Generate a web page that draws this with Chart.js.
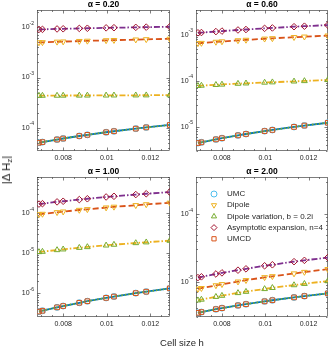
<!DOCTYPE html>
<html>
<head>
<meta charset="utf-8">
<script src="https://cdn.jsdelivr.net/npm/chart.js@4.4.1/dist/chart.umd.min.js"></script>
<style>
  html, body { margin: 0; padding: 0; background: #fff; }
  #fig { position: relative; width: 334px; height: 348px; overflow: hidden; background: #fff;
         font-family: "Liberation Sans", Arial, sans-serif; color: #262626; }
  #fig canvas { position: absolute; }
  #ylab { position: absolute; left: 7px; top: 170px; transform: translate(-50%, -50%) rotate(-90deg);
          font-size: 11.5px; white-space: nowrap; }
  #ylab sub { font-size: 8px; vertical-align: -2px; }
  #xlab { position: absolute; left: 182px; top: 342px; transform: translate(-50%, -50%);
          font-size: 9.5px; white-space: nowrap; }
</style>
</head>
<body>
<div id="fig">
  <canvas id="c0"></canvas>
  <canvas id="c1"></canvas>
  <canvas id="c2"></canvas>
  <canvas id="c3"></canvas>
  <div id="ylab">|&Delta; H<sub>z</sub>|</div>
  <div id="xlab">Cell size h</div>
</div>
<script>
// --- Data ---
const cellSize = [0.00689, 0.00705, 0.00772, 0.0080, 0.00874, 0.00911, 0.00997, 0.01033, 0.01133, 0.01181, 0.01289];
const xTicks = [0.008, 0.01, 0.012];
const titles = ["α = 0.20", "α = 0.60", "α = 1.00", "α = 2.00"];
const seriesNames = ["UMC", "Dipole", "Dipole variation, b = 0.2i", "Asymptotic expansion, n=4", "UMCD"];

// alpha = 0.20
const umcA = [5.0e-5, 5.15e-5, 5.79e-5, 6.07e-5, 6.81e-5, 7.19e-5, 8.09e-5, 8.47e-5, 9.55e-5, 1.01e-4, 1.13e-4];
const dipoleA = [5.0e-3, 5.03e-3, 5.15e-3, 5.2e-3, 5.32e-3, 5.38e-3, 5.5e-3, 5.56e-3, 5.69e-3, 5.77e-3, 5.9e-3];
const dipVarA = [4.35e-4, 4.35e-4, 4.36e-4, 4.37e-4, 4.38e-4, 4.39e-4, 4.4e-4, 4.41e-4, 4.42e-4, 4.43e-4, 4.45e-4];
const asymA = [9.1e-3, 9.12e-3, 9.3e-3, 9.37e-3, 9.53e-3, 9.6e-3, 9.78e-3, 9.84e-3, 1.0e-2, 1.01e-2, 1.03e-2];
const umcdA = [5.0e-5, 5.15e-5, 5.79e-5, 6.07e-5, 6.81e-5, 7.19e-5, 8.09e-5, 8.47e-5, 9.55e-5, 1.01e-4, 1.13e-4];

// alpha = 0.60
const umcB = [4.4e-6, 4.56e-6, 5.28e-6, 5.61e-6, 6.47e-6, 6.93e-6, 8.02e-6, 8.49e-6, 9.89e-6, 1.06e-5, 1.22e-5];
const dipoleB = [6.6e-4, 6.7e-4, 7.08e-4, 7.24e-4, 7.64e-4, 7.83e-4, 8.3e-4, 8.47e-4, 8.97e-4, 9.2e-4, 9.7e-4];
const dipVarB = [7.8e-5, 7.9e-5, 8.2e-5, 8.35e-5, 8.7e-5, 8.85e-5, 9.2e-5, 9.35e-5, 9.75e-5, 9.95e-5, 1.05e-4];
const asymB = [1.12e-3, 1.135e-3, 1.19e-3, 1.22e-3, 1.29e-3, 1.32e-3, 1.4e-3, 1.43e-3, 1.52e-3, 1.56e-3, 1.65e-3];
const umcdB = [4.4e-6, 4.56e-6, 5.28e-6, 5.61e-6, 6.47e-6, 6.93e-6, 8.02e-6, 8.49e-6, 9.89e-6, 1.06e-5, 1.22e-5];

// alpha = 1.00
const umcC = [3.5e-7, 3.67e-7, 4.46e-7, 4.81e-7, 5.81e-7, 6.35e-7, 7.69e-7, 8.3e-7, 1.01e-6, 1.1e-6, 1.33e-6];
const dipoleC = [9.4e-5, 9.64e-5, 1.06e-4, 1.1e-4, 1.21e-4, 1.26e-4, 1.39e-4, 1.45e-4, 1.59e-4, 1.67e-4, 1.83e-4];
const dipVarC = [1.08e-5, 1.1e-5, 1.21e-5, 1.26e-5, 1.38e-5, 1.44e-5, 1.58e-5, 1.65e-5, 1.81e-5, 1.89e-5, 2.07e-5];
const asymC = [1.7e-4, 1.74e-4, 1.93e-4, 2.0e-4, 2.2e-4, 2.31e-4, 2.56e-4, 2.66e-4, 2.94e-4, 3.08e-4, 3.4e-4];
const umcdC = [3.5e-7, 3.67e-7, 4.46e-7, 4.81e-7, 5.81e-7, 6.35e-7, 7.69e-7, 8.3e-7, 1.01e-6, 1.1e-6, 1.33e-6];

// alpha = 2.00
const umcD = [3.45e-6, 3.54e-6, 3.9e-6, 4.05e-6, 4.44e-6, 4.63e-6, 5.1e-6, 5.3e-6, 5.84e-6, 6.1e-6, 6.7e-6];
const dipoleD = [7.8e-6, 8.0e-6, 8.8e-6, 9.15e-6, 1.0e-5, 1.05e-5, 1.16e-5, 1.2e-5, 1.32e-5, 1.39e-5, 1.53e-5];
const dipVarD = [5.3e-6, 5.43e-6, 5.97e-6, 6.2e-6, 6.8e-6, 7.1e-6, 7.8e-6, 8.1e-6, 8.9e-6, 9.3e-6, 1.02e-5];
const asymD = [1.15e-5, 1.18e-5, 1.3e-5, 1.35e-5, 1.48e-5, 1.55e-5, 1.72e-5, 1.78e-5, 1.98e-5, 2.07e-5, 2.28e-5];
const umcdD = [3.45e-6, 3.54e-6, 3.9e-6, 4.05e-6, 4.44e-6, 4.63e-6, 5.1e-6, 5.3e-6, 5.84e-6, 6.1e-6, 6.7e-6];

// y limits per panel
const yMinAll = [3.42e-5, 2.95e-6, 2.56e-7, 2.99e-6];
const yMaxAll = [2.22e-2, 3.52e-3, 8.08e-4, 3.57e-4];

// --- Styles ---
const styles = [
  { line: "#0072BD", marker: "#4DBEEE", point: "circle", rot: 0, dash: [], order: 5 },
  { line: "#D95319", marker: "#EDB120", point: "triangle", rot: 180, dash: [6, 3], order: 4 },
  { line: "#EDB120", marker: "#77AC30", point: "triangle", rot: 0, dash: [6, 2, 1.5, 2], order: 3 },
  { line: "#7E2F8E", marker: "#A2142F", point: "rectRot", rot: 0, dash: [6, 2, 1.5, 2], order: 2 },
  { line: "#77AC30", marker: "#D95319", point: "rect", rot: 0, dash: [1.5, 2], order: 1 }
];
const tickFont = '7px "Liberation Sans", Arial, sans-serif';
const expFont = '5px "Liberation Sans", Arial, sans-serif';
const axisColor = "#262626";

// canvas box + fixed axes area for each panel
const boxes = [
  { x: 0, y: 0, w: 176, h: 168, left: 37, top: 10, right: 6, bottom: 17 },
  { x: 176, y: 0, w: 158, h: 168, left: 20, top: 10, right: 6, bottom: 17 },
  { x: 0, y: 168, w: 176, h: 180, left: 37, top: 9, right: 6, bottom: 31 },
  { x: 176, y: 168, w: 158, h: 180, left: 20, top: 9, right: 6, bottom: 31 }
];

function toPoints(vals) {
  return cellSize.map((h, i) => ({ x: h, y: vals[i] }));
}

// draws box, inward ticks, y tick labels, title
const framePlugin = {
  id: "frame",
  beforeDatasetsDraw(chart) {
    const ctx = chart.ctx;
    const a = chart.chartArea;
    const xs = chart.scales.x;
    const ys = chart.scales.y;
    const L = Math.round(a.left) + 0.5, R = Math.round(a.right) - 0.5;
    const T = Math.round(a.top) + 0.5, B = Math.round(a.bottom) - 0.5;
    ctx.save();
    ctx.strokeStyle = axisColor;
    ctx.lineWidth = 0.6;
    ctx.strokeRect(L, T, R - L, B - T);
    ctx.beginPath();
    // x ticks
    for (let v = 0.007; v <= xs.max + 1e-9; v += 0.0005) {
      const px = Math.round(xs.getPixelForValue(v)) + 0.5;
      const major = xTicks.some(t => Math.abs(t - v) < 1e-7);
      const len = major ? 3 : 1.5;
      ctx.moveTo(px, B); ctx.lineTo(px, B - len);
      ctx.moveTo(px, T); ctx.lineTo(px, T + len);
    }
    // y ticks
    const lo = Math.floor(Math.log10(ys.min)), hi = Math.ceil(Math.log10(ys.max));
    for (let e = lo; e <= hi; e++) {
      for (let m = 1; m < 10; m++) {
        const v = m * Math.pow(10, e);
        if (v < ys.min || v > ys.max) continue;
        const py = Math.round(ys.getPixelForValue(v)) + 0.5;
        const len = m === 1 ? 3 : 1.5;
        ctx.moveTo(L, py); ctx.lineTo(L + len, py);
        ctx.moveTo(R, py); ctx.lineTo(R - len, py);
      }
    }
    ctx.stroke();
    // y tick labels
    ctx.fillStyle = axisColor;
    ctx.textBaseline = "middle";
    for (let e = lo; e <= hi; e++) {
      const v = Math.pow(10, e);
      if (v < ys.min || v > ys.max) continue;
      const py = ys.getPixelForValue(v);
      ctx.font = expFont;
      ctx.textAlign = "right";
      const ex = String(e);
      const exW = ctx.measureText(ex).width;
      ctx.fillText(ex, a.left - 3, py - 4);
      ctx.font = tickFont;
      ctx.fillText("10", a.left - 3 - exW, py);
    }
    // title
    ctx.font = 'bold 8.5px "Liberation Sans", Arial, sans-serif';
    ctx.fillStyle = "#000";
    ctx.textAlign = "center";
    ctx.fillText(chart.options.plugins.frame.title, (a.left + a.right) / 2, a.top - 5);
    ctx.restore();
  }
};

const legendPlugin = {
  id: "markerLegend",
  afterDraw(chart) {
    if (!chart.options.plugins.markerLegend.show) return;
    const ctx = chart.ctx;
    const a = chart.chartArea;
    ctx.save();
    ctx.font = '8px "Liberation Sans", Arial, sans-serif';
    ctx.textAlign = "left";
    ctx.textBaseline = "middle";
    seriesNames.forEach((name, i) => {
      const y = a.top + 17 + i * 11.2;
      const st = styles[i];
      ctx.strokeStyle = st.marker;
      ctx.fillStyle = "rgba(0,0,0,0)";
      ctx.lineWidth = 1;
      Chart.helpers.drawPoint(ctx, { pointStyle: st.point, radius: 3, rotation: st.rot, borderWidth: 1 }, a.left + 18, y);
      ctx.fillStyle = axisColor;
      ctx.fillText(name, a.left + 31, y);
    });
    ctx.restore();
  }
};

function makePanel(idx, seriesVals) {
  const box = boxes[idx];
  const canvas = document.getElementById("c" + idx);
  canvas.width = box.w;
  canvas.height = box.h;
  canvas.style.left = box.x + "px";
  canvas.style.top = box.y + "px";
  canvas.style.width = box.w + "px";
  canvas.style.height = box.h + "px";

  const datasets = seriesVals.map((vals, i) => ({
    label: seriesNames[i],
    data: toPoints(vals),
    borderColor: styles[i].line,
    borderWidth: 1.8,
    borderDash: styles[i].dash,
    pointStyle: styles[i].point,
    pointRotation: styles[i].rot,
    pointRadius: styles[i].point === "circle" ? 3 : 3.3,
    pointBorderColor: styles[i].marker,
    pointBackgroundColor: "rgba(0,0,0,0)",
    pointBorderWidth: 1,
    fill: false,
    tension: 0,
    order: styles[i].order
  }));

  return new Chart(canvas, {
    type: "line",
    data: { datasets },
    options: {
      responsive: false,
      animation: false,
      devicePixelRatio: 1,
      layout: { padding: { top: box.top, right: box.right, left: 0, bottom: 0 } },
      plugins: {
        legend: { display: false },
        tooltip: { enabled: false },
        frame: { title: titles[idx] },
        markerLegend: { show: idx === 3 }
      },
      scales: {
        x: {
          type: "linear",
          min: 0.0068,
          max: 0.0129,
          grid: { display: false, drawTicks: false },
          border: { display: false },
          afterBuildTicks: s => { s.ticks = xTicks.map(v => ({ value: v })); },
          afterFit: s => { s.height = box.bottom; s.paddingLeft = 0; s.paddingRight = 0; },
          ticks: {
            padding: 3,
            maxRotation: 0,
            color: axisColor,
            font: { family: '"Liberation Sans", Arial, sans-serif', size: 7 },
            callback: v => String(v)
          }
        },
        y: {
          type: "logarithmic",
          min: yMinAll[idx],
          max: yMaxAll[idx],
          grid: { display: false, drawTicks: false },
          border: { display: false },
          ticks: { display: false },
          afterFit: s => { s.width = box.left; s.paddingTop = 0; s.paddingBottom = 0; }
        }
      }
    },
    plugins: [framePlugin, legendPlugin]
  });
}

makePanel(0, [umcA, dipoleA, dipVarA, asymA, umcdA]);
makePanel(1, [umcB, dipoleB, dipVarB, asymB, umcdB]);
makePanel(2, [umcC, dipoleC, dipVarC, asymC, umcdC]);
makePanel(3, [umcD, dipoleD, dipVarD, asymD, umcdD]);
</script>
</body>
</html>
